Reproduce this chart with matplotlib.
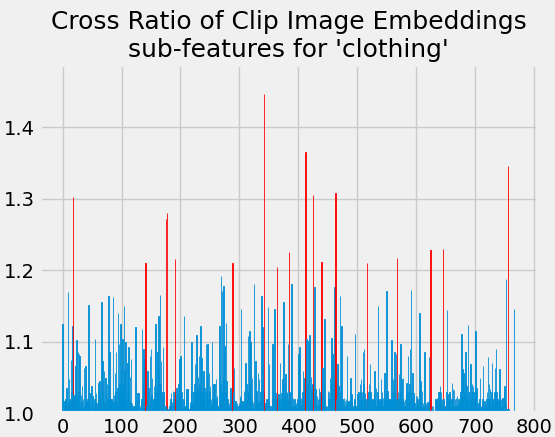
import numpy as np
import matplotlib
matplotlib.use("Agg")
import matplotlib.pyplot as plt

# cross ratio per sub-feature (768 dims)
ratios = [
    1.124, 1.042, 1.010, 1.017, 1.005, 1.020, 1.012, 1.035, 1.008, 1.170, 1.015, 1.047, 1.020, 1.017, 1.074, 1.030, 1.020, 1.122, 1.302, 1.025,
    1.024, 1.030, 1.066, 1.020, 1.102, 1.025, 1.085, 1.030, 1.082, 1.080, 1.010, 1.025, 1.015, 1.038, 1.005, 1.020, 1.063, 1.010, 1.020, 1.066,
    1.008, 1.015, 1.020, 1.005, 1.151, 1.010, 1.028, 1.012, 1.004, 1.038, 1.015, 1.024, 1.008, 1.010, 1.020, 1.103, 1.015, 1.028, 1.005, 1.014,
    1.020, 1.042, 1.010, 1.045, 1.025, 1.015, 1.156, 1.020, 1.073, 1.030, 1.059, 1.015, 1.025, 1.049, 1.010, 1.040, 1.020, 1.005, 1.164, 1.030,
    1.085, 1.020, 1.010, 1.019, 1.005, 1.015, 1.162, 1.025, 1.015, 1.056, 1.030, 1.085, 1.010, 1.035, 1.140, 1.020, 1.096, 1.040, 1.125, 1.060,
    1.030, 1.020, 1.103, 1.040, 1.150, 1.060, 1.020, 1.100, 1.017, 1.030, 1.070, 1.025, 1.092, 1.020, 1.050, 1.015, 1.075, 1.010, 1.014, 1.005,
    1.010, 1.003, 1.008, 1.015, 1.120, 1.010, 1.020, 1.028, 1.005, 1.028, 1.010, 1.010, 1.003, 1.012, 1.020, 1.117, 1.040, 1.089, 1.030, 1.075,
    1.020, 1.210, 1.010, 1.030, 1.059, 1.020, 1.035, 1.015, 1.080, 1.020, 1.089, 1.025, 1.049, 1.010, 1.020, 1.038, 1.015, 1.117, 1.124, 1.030,
    1.040, 1.085, 1.050, 1.136, 1.060, 1.165, 1.040, 1.073, 1.030, 1.020, 1.092, 1.030, 1.024, 1.010, 1.005, 1.272, 1.010, 1.280, 1.005, 1.002,
    1.004, 1.010, 1.012, 1.020, 1.028, 1.010, 1.015, 1.031, 1.020, 1.019, 1.030, 1.215, 1.020, 1.035, 1.025, 1.010, 1.028, 1.040, 1.075, 1.050,
    1.080, 1.020, 1.030, 1.010, 1.005, 1.020, 1.136, 1.010, 1.010, 1.020, 1.033, 1.020, 1.033, 1.010, 1.005, 1.005, 1.015, 1.010, 1.030, 1.100,
    1.012, 1.014, 1.030, 1.020, 1.040, 1.068, 1.030, 1.109, 1.080, 1.035, 1.050, 1.080, 1.040, 1.030, 1.122, 1.020, 1.077, 1.030, 1.045, 1.059,
    1.020, 1.035, 1.010, 1.096, 1.030, 1.050, 1.096, 1.020, 1.056, 1.030, 1.038, 1.010, 1.020, 1.100, 1.015, 1.020, 1.040, 1.030, 1.040, 1.020,
    1.047, 1.020, 1.024, 1.010, 1.005, 1.020, 1.122, 1.030, 1.040, 1.192, 1.171, 1.030, 1.050, 1.178, 1.020, 1.094, 1.030, 1.126, 1.045, 1.020,
    1.019, 1.008, 1.014, 1.005, 1.010, 1.035, 1.020, 1.096, 1.210, 1.030, 1.020, 1.063, 1.010, 1.017, 1.005, 1.010, 1.014, 1.005, 1.010, 1.014,
    1.010, 1.024, 1.020, 1.146, 1.010, 1.017, 1.005, 1.015, 1.031, 1.020, 1.070, 1.030, 1.040, 1.020, 1.108, 1.030, 1.050, 1.115, 1.030, 1.099,
    1.020, 1.049, 1.010, 1.015, 1.005, 1.180, 1.020, 1.073, 1.010, 1.031, 1.020, 1.056, 1.015, 1.047, 1.010, 1.020, 1.030, 1.164, 1.020, 1.120,
    1.070, 1.030, 1.447, 1.010, 1.014, 1.005, 1.020, 1.010, 1.148, 1.020, 1.068, 1.010, 1.005, 1.002, 1.010, 1.020, 1.096, 1.030, 1.020, 1.146,
    1.030, 1.028, 1.010, 1.020, 1.205, 1.010, 1.026, 1.015, 1.020, 1.070, 1.010, 1.028, 1.020, 1.047, 1.030, 1.155, 1.020, 1.040, 1.054, 1.020,
    1.026, 1.030, 1.096, 1.020, 1.225, 1.030, 1.026, 1.010, 1.180, 1.020, 1.010, 1.021, 1.010, 1.019, 1.005, 1.010, 1.014, 1.010, 1.020, 1.030,
    1.082, 1.030, 1.092, 1.020, 1.021, 1.010, 1.020, 1.030, 1.059, 1.040, 1.049, 1.020, 1.365, 1.030, 1.103, 1.040, 1.020, 1.101, 1.030, 1.109,
    1.020, 1.050, 1.033, 1.020, 1.040, 1.305, 1.030, 1.176, 1.020, 1.033, 1.015, 1.024, 1.010, 1.020, 1.010, 1.035, 1.020, 1.030, 1.010, 1.211,
    1.020, 1.063, 1.030, 1.040, 1.131, 1.020, 1.010, 1.005, 1.010, 1.005, 1.031, 1.020, 1.030, 1.049, 1.020, 1.040, 1.105, 1.030, 1.082, 1.040,
    1.059, 1.177, 1.030, 1.308, 1.020, 1.040, 1.068, 1.030, 1.038, 1.020, 1.164, 1.030, 1.040, 1.122, 1.020, 1.019, 1.010, 1.021, 1.005, 1.017,
    1.010, 1.020, 1.080, 1.015, 1.005, 1.017, 1.010, 1.020, 1.049, 1.010, 1.026, 1.015, 1.005, 1.010, 1.005, 1.020, 1.111, 1.010, 1.005, 1.010,
    1.026, 1.020, 1.030, 1.020, 1.040, 1.030, 1.047, 1.020, 1.030, 1.085, 1.040, 1.089, 1.020, 1.028, 1.010, 1.020, 1.210, 1.020, 1.028, 1.030,
    1.040, 1.068, 1.030, 1.020, 1.019, 1.010, 1.019, 1.020, 1.030, 1.059, 1.020, 1.035, 1.010, 1.020, 1.030, 1.150, 1.020, 1.017, 1.010, 1.020,
    1.047, 1.020, 1.030, 1.021, 1.010, 1.030, 1.056, 1.020, 1.030, 1.171, 1.020, 1.031, 1.010, 1.020, 1.019, 1.010, 1.020, 1.030, 1.102, 1.020,
    1.047, 1.030, 1.040, 1.085, 1.030, 1.082, 1.020, 1.217, 1.020, 1.030, 1.054, 1.020, 1.030, 1.096, 1.030, 1.047, 1.020, 1.049, 1.010, 1.017,
    1.010, 1.020, 1.030, 1.042, 1.020, 1.030, 1.080, 1.030, 1.040, 1.089, 1.030, 1.172, 1.020, 1.056, 1.030, 1.028, 1.010, 1.014, 1.005, 1.024,
    1.010, 1.024, 1.020, 1.010, 1.030, 1.140, 1.020, 1.045, 1.020, 1.031, 1.010, 1.014, 1.005, 1.010, 1.085, 1.010, 1.014, 1.005, 1.010, 1.015,
    1.014, 1.079, 1.020, 1.010, 1.228, 1.005, 1.010, 1.004, 1.010, 1.003, 1.002, 1.005, 1.019, 1.010, 1.020, 1.021, 1.010, 1.030, 1.020, 1.030,
    1.038, 1.020, 1.030, 1.019, 1.010, 1.230, 1.020, 1.010, 1.005, 1.010, 1.005, 1.030, 1.144, 1.020, 1.026, 1.010, 1.030, 1.024, 1.020, 1.010,
    1.042, 1.020, 1.033, 1.010, 1.032, 1.020, 1.010, 1.021, 1.010, 1.024, 1.010, 1.020, 1.014, 1.010, 1.020, 1.030, 1.110, 1.040, 1.061, 1.030,
    1.056, 1.030, 1.040, 1.085, 1.020, 1.038, 1.020, 1.123, 1.030, 1.014, 1.010, 1.030, 1.068, 1.020, 1.040, 1.030, 1.038, 1.020, 1.030, 1.020,
    1.115, 1.020, 1.035, 1.010, 1.005, 1.014, 1.010, 1.020, 1.049, 1.010, 1.005, 1.010, 1.020, 1.066, 1.010, 1.017, 1.005, 1.010, 1.010, 1.020,
    1.030, 1.079, 1.020, 1.040, 1.020, 1.033, 1.010, 1.030, 1.070, 1.020, 1.019, 1.010, 1.030, 1.063, 1.020, 1.089, 1.030, 1.017, 1.010, 1.020,
    1.030, 1.061, 1.020, 1.019, 1.010, 1.020, 1.021, 1.010, 1.030, 1.038, 1.020, 1.010, 1.187, 1.005, 1.002, 1.345, 1.005, 1.000, 1.002, 1.000,
    1.000, 1.000, 1.000, 1.000, 1.000, 1.146, 1.000, 1.000,
]
threshold = 1.2
title = "Cross Ratio of Clip Image Embeddings\nsub-features for 'clothing'"

plt.style.use("fivethirtyeight")

ratios = np.array(ratios)
idx = np.arange(len(ratios))
colors = ["red" if r > threshold else "#008fd5" for r in ratios]

fig = plt.figure(figsize=(5.55, 4.37), dpi=100)
ax = fig.add_axes([0.0714, 0.0549, 0.8977, 0.7963])
# thin bars: outline in their own colour so none vanish at this size
ax.bar(idx, ratios, color=colors, edgecolor=colors, linewidth=0.6)
ax.set_ylim(1.0, 1.487)
ax.set_yticks([1.0, 1.1, 1.2, 1.3, 1.4])
ax.set_xticks(range(0, 801, 100))
ax.set_title(title, fontsize=17.9)

fig.savefig("out.png", dpi=100)
